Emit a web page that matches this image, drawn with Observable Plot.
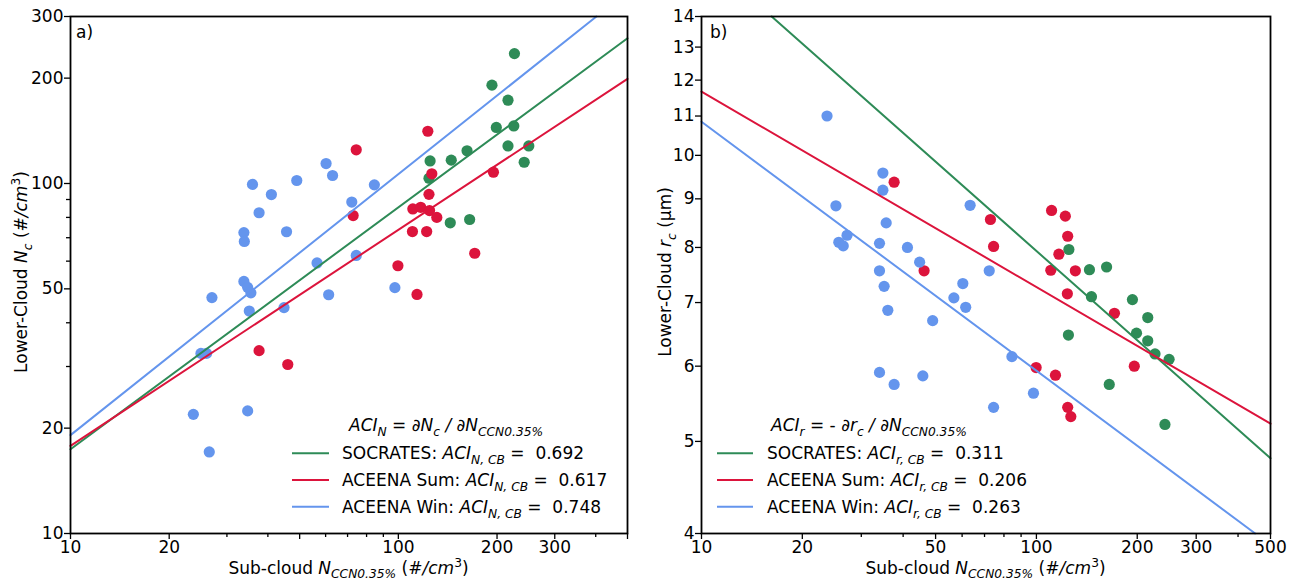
<!DOCTYPE html>
<html>
<head>
<meta charset="utf-8">
<script src="https://cdn.jsdelivr.net/npm/d3@7"></script>
<script src="https://cdn.jsdelivr.net/npm/@observablehq/plot@0.6"></script>
<style>
  html, body { margin: 0; padding: 0; background: white; }
  #wrap { position: relative; width: 1297px; height: 582px; }
  #wrap svg { position: absolute; top: 0; }
</style>
</head>
<body>
<div id="wrap"></div>
<script>
// ---------- Panel a) : Lower-cloud Nc vs sub-cloud N_CCN ----------
const socN_x = [226, 193, 216, 199, 225, 216, 250, 242, 162, 145, 125, 124, 144, 165];
const socN_y = [235, 191, 173, 144.6, 146, 128, 128, 115, 124, 116.6, 116, 103.5, 77.2, 78.9];
const sumN_x = [123, 74.4, 126.5, 124, 110.7, 117, 124.5, 131, 72.8, 110.4, 122, 195, 171, 99.7, 114, 37.6, 46];
const sumN_y = [141, 124.8, 106.6, 93.1, 84.6, 85.5, 83.7, 80, 81, 72.9, 72.9, 107.7, 63.2, 58.2, 48.2, 33.3, 30.4];
const winN_x = [60.2, 63, 49, 35.9, 84.5, 41, 72.1, 37.6, 33.8, 45.6, 33.9, 56.5, 74.4, 33.8, 34.7, 35.5, 97.6, 27, 61.3, 35.1, 44.8, 25, 26, 23.7, 34.7, 26.5];
const winN_y = [114, 105.4, 102, 99.4, 99.1, 93, 88.5, 82.5, 72.4, 72.8, 68.3, 59.3, 62.3, 52.5, 50.5, 48.7, 50.4, 47.2, 48.1, 43.2, 44.2, 32.7, 32.7, 21.9, 22.4, 17.1];
// fitted lines (end points)
const socN_fit_x = [10, 500],  socN_fit_y = [17.4, 260];
const sumN_fit_x = [10, 500],  sumN_fit_y = [17.8, 199];
const winN_fit_x = [10, 402],  winN_fit_y = [19.1, 300];
const aciN = ["0.692", "0.617", "0.748"];

// ---------- Panel b) : Lower-cloud rc vs sub-cloud N_CCN ----------
const socR_x = [125, 144, 162, 146, 193.5, 215, 124.6, 199, 215, 226, 249, 165, 242];
const socR_y = [7.96, 7.58, 7.63, 7.1, 7.05, 6.75, 6.47, 6.5, 6.38, 6.18, 6.1, 5.74, 5.21];
const sumR_x = [37.6, 111, 122, 72.9, 124, 74.5, 116.7, 110.4, 130.7, 46.2, 123.7, 171, 99.8, 114, 196, 124, 126.7];
const sumR_y = [9.37, 8.75, 8.63, 8.56, 8.22, 8.02, 7.87, 7.57, 7.56, 7.56, 7.15, 6.82, 5.98, 5.87, 6.0, 5.43, 5.31];
const winR_x = [23.7, 34.8, 34.8, 25.2, 63.4, 35.6, 27.2, 25.7, 26.5, 34, 41.2, 44.8, 34, 72.3, 35.1, 60.3, 56.7, 61.5, 36, 49, 84.5, 34, 45.8, 37.6, 98, 74.5];
const winR_y = [11.0, 9.58, 9.19, 8.85, 8.86, 8.49, 8.24, 8.10, 8.03, 8.08, 8.0, 7.72, 7.56, 7.56, 7.28, 7.33, 7.08, 6.92, 6.87, 6.70, 6.14, 5.91, 5.86, 5.74, 5.62, 5.43];
const socR_fit_x = [16.2, 500], socR_fit_y = [14, 4.80];
const sumR_fit_x = [10, 500],   sumR_fit_y = [11.67, 5.22];
const winR_fit_x = [10, 450],   winR_fit_y = [10.85, 4];
const aciR = ["0.311", "0.206", "0.263"];

// ---------- ticks ----------
const xMajor = [10, 20, 50, 100, 200, 300, 500];
const xMinor = [30, 40, 60, 70, 80, 90, 400];
const yMajorN = [10, 20, 50, 100, 200, 300];
const yMinorN = [30, 40, 60, 70, 80, 90];
const yMajorR = [4, 5, 6, 7, 8, 9, 10, 11, 12, 13, 14];

const seriesNames = ["SOCRATES", "ACEENA Sum", "ACEENA Win"];
const colors = ["#2e8b57", "#dc143c", "#6495ed"];

const zip = (xs, ys, s) => xs.map((x, i) => ({x, y: ys[i], s}));

const FONT = "DejaVu Sans";
const FS = 17;

function rich(svg, x, y, parts, {anchor = "start", rotate = 0, size = FS, sub = 0.3} = {}) {
  const t = d3.select(svg).append("text")
    .attr("x", x).attr("y", y)
    .attr("text-anchor", anchor)
    .attr("font-family", FONT)
    .attr("font-size", size)
    .attr("fill", "black")
    .attr("xml:space", "preserve")
    .style("white-space", "pre");
  if (rotate) t.attr("transform", `rotate(${rotate},${x},${y})`);
  let shift = 0;
  for (const p of parts) {
    const target = p.s === "sub" ? size * sub : p.s === "sup" ? -size * 0.4 : 0;
    const ts = t.append("tspan").text(p.t).attr("dy", target - shift);
    shift = target;
    if (p.i) ts.attr("font-style", "italic");
    if (p.s) ts.attr("font-size", size * 0.72);
  }
  return t;
}

function panel(cfg) {
  const dots = [
    ...zip(cfg.sx, cfg.sy, 0),
    ...zip(cfg.ux, cfg.uy, 1),
    ...zip(cfg.wx, cfg.wy, 2)
  ];
  const fits = [
    zip(cfg.fits[0][0], cfg.fits[0][1], 0),
    zip(cfg.fits[1][0], cfg.fits[1][1], 1),
    zip(cfg.fits[2][0], cfg.fits[2][1], 2)
  ];
  const svg = Plot.plot({
    width: cfg.width, height: 582,
    marginLeft: cfg.ml, marginRight: cfg.mr, marginTop: 16, marginBottom: 49,
    style: {fontFamily: FONT, fontSize: FS + "px", background: "transparent", color: "black", overflow: "visible"},
    x: {type: "log", domain: [10, 500]},
    y: {type: "log", domain: cfg.ydomain},
    marks: [
      Plot.dot(dots, {x: "x", y: "y", r: 5.6, fill: d => colors[d.s], stroke: "none"}),
      ...fits.map((f, i) => Plot.line(f, {x: "x", y: "y", stroke: colors[i], strokeWidth: 2})),
      Plot.axisX(xMajor, {tickSize: 6, tickPadding: 1, tickFormat: d => String(d), label: null, strokeWidth: 1.3}),
      Plot.axisX(xMinor, {tickSize: 4, tickFormat: () => "", label: null, strokeWidth: 1.3}),
      Plot.axisY(cfg.yMajor, {tickSize: 6, tickPadding: 1, tickFormat: d => String(d), label: null, strokeWidth: 1.3}),
      ...(cfg.yMinor ? [Plot.axisY(cfg.yMinor, {tickSize: 4, tickFormat: () => "", label: null, strokeWidth: 1.3})] : []),
      Plot.frame({stroke: "black", strokeWidth: 1.8})
    ]
  });
  svg.style.left = cfg.left + "px";
  return svg;
}

const wrap = document.getElementById("wrap");

// Left panel
const svgA = panel({
  width: 648, ml: 70, mr: 21, left: 0,
  ydomain: [10, 300], yMajor: yMajorN, yMinor: yMinorN,
  sx: socN_x, sy: socN_y, ux: sumN_x, uy: sumN_y, wx: winN_x, wy: winN_y,
  fits: [[socN_fit_x, socN_fit_y], [sumN_fit_x, sumN_fit_y], [winN_fit_x, winN_fit_y]]
});
wrap.appendChild(svgA);

// Right panel
const svgB = panel({
  width: 649, ml: 53, mr: 27, left: 648,
  ydomain: [4, 14], yMajor: yMajorR, yMinor: null,
  sx: socR_x, sy: socR_y, ux: sumR_x, uy: sumR_y, wx: winR_x, wy: winR_y,
  fits: [[socR_fit_x, socR_fit_y], [sumR_fit_x, sumR_fit_y], [winR_fit_x, winR_fit_y]]
});
wrap.appendChild(svgB);

// ---- labels for panel a ----
rich(svgA, 76, 38, [{t: "a"}, {t: ")"}]);
rich(svgA, 348.5, 574, [
  {t: "Sub-cloud "}, {t: "N", i: 1}, {t: "CCN0.35%", i: 1, s: "sub"}, {t: " ("}, {t: "#/cm", i: 1}, {t: "3", s: "sup"}, {t: ")"}
], {anchor: "middle", sub: 0.22});
rich(svgA, 27, 272, [
  {t: "Lower-Cloud "}, {t: "N", i: 1}, {t: "c", i: 1, s: "sub"}, {t: " ("}, {t: "#/cm", i: 1}, {t: "3", s: "sup"}, {t: ")"}
], {anchor: "middle", rotate: -90});
rich(svgA, 349, 431, [
  {t: "ACI", i: 1}, {t: "N", i: 1, s: "sub"}, {t: " = "}, {t: "∂N", i: 1}, {t: "c", i: 1, s: "sub"}, {t: " / ∂N", i: 1}, {t: "CCN0.35%", i: 1, s: "sub"}
]);
[453.3, 480, 506.7].forEach((yy, i) => {
  d3.select(svgA).append("line").attr("x1", 292).attr("x2", 329).attr("y1", yy).attr("y2", yy)
    .attr("stroke", colors[i]).attr("stroke-width", 2);
  rich(svgA, 342, yy + 6, [
    {t: seriesNames[i] + ": "}, {t: "ACI", i: 1}, {t: "N, CB", i: 1, s: "sub"}, {t: " =  " + aciN[i]}
  ]);
});

// ---- labels for panel b ----
rich(svgB, 62, 38, [{t: "b"}, {t: ")"}]);
rich(svgB, 337.5, 574, [
  {t: "Sub-cloud "}, {t: "N", i: 1}, {t: "CCN0.35%", i: 1, s: "sub"}, {t: " ("}, {t: "#/cm", i: 1}, {t: "3", s: "sup"}, {t: ")"}
], {anchor: "middle", sub: 0.22});
rich(svgB, 23, 272, [
  {t: "Lower-Cloud "}, {t: "r", i: 1}, {t: "c", i: 1, s: "sub"}, {t: " (μm)"}
], {anchor: "middle", rotate: -90});
rich(svgB, 123, 431, [
  {t: "ACI", i: 1}, {t: "r", i: 1, s: "sub"}, {t: " = - "}, {t: "∂r", i: 1}, {t: "c", i: 1, s: "sub"}, {t: " / ∂N", i: 1}, {t: "CCN0.35%", i: 1, s: "sub"}
]);
[453.3, 480, 506.7].forEach((yy, i) => {
  d3.select(svgB).append("line").attr("x1", 69).attr("x2", 105).attr("y1", yy).attr("y2", yy)
    .attr("stroke", colors[i]).attr("stroke-width", 2);
  rich(svgB, 119, yy + 6, [
    {t: seriesNames[i] + ": "}, {t: "ACI", i: 1}, {t: "r, CB", i: 1, s: "sub"}, {t: " =  " + aciR[i]}
  ]);
});
</script>
</body>
</html>
